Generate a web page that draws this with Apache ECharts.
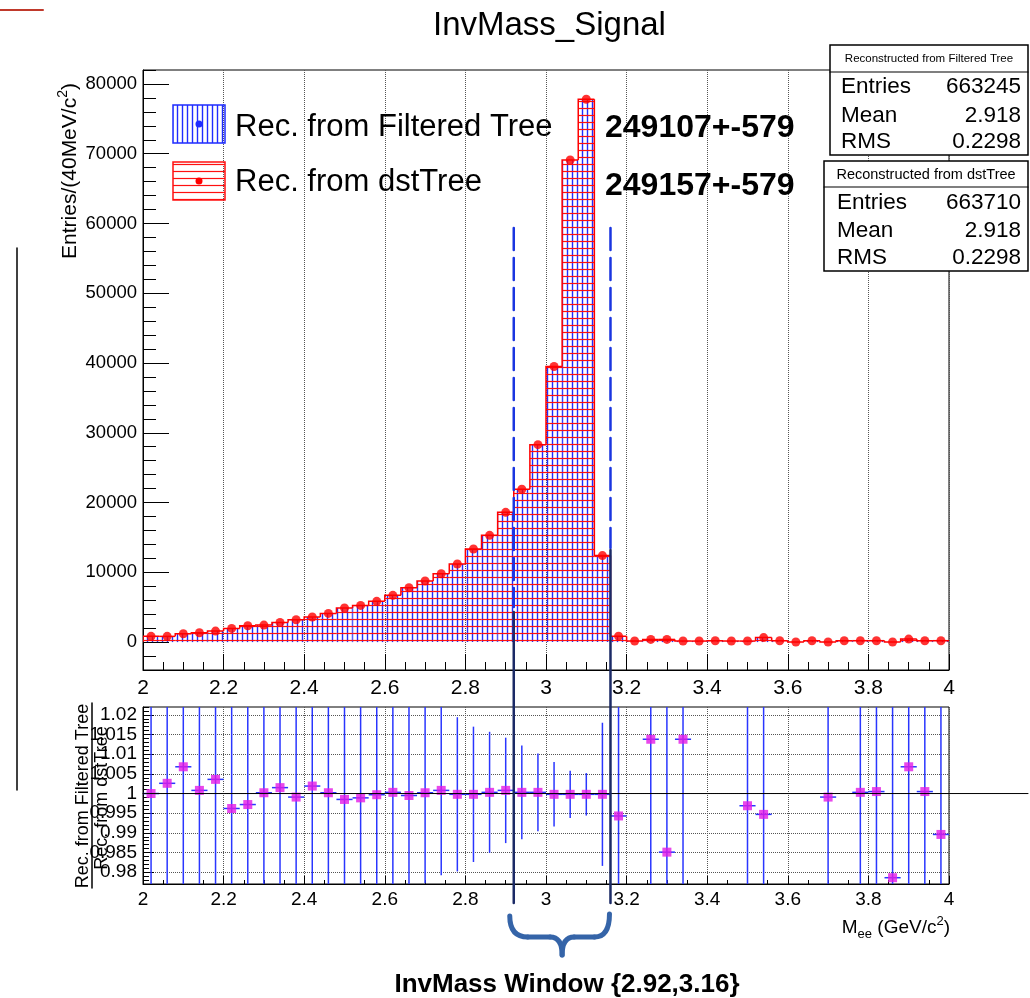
<!DOCTYPE html>
<html>
<head>
<meta charset="utf-8">
<title>InvMass_Signal</title>
<script src="https://cdn.jsdelivr.net/npm/echarts@6.0.0/dist/echarts.min.js"></script>
<style>
html, body { margin: 0; padding: 0; background: #fff; }
#chart { width: 1030px; height: 998px; }
</style>
</head>
<body>
<div id="chart"></div>
<script>
// bins of 40 MeV between 2 and 4 GeV
var binCenters = [2.02, 2.06, 2.10, 2.14, 2.18, 2.22, 2.26, 2.30, 2.34, 2.38,
                  2.42, 2.46, 2.50, 2.54, 2.58, 2.62, 2.66, 2.70, 2.74, 2.78,
                  2.82, 2.86, 2.90, 2.94, 2.98, 3.02, 3.06, 3.10, 3.14, 3.18,
                  3.22, 3.26, 3.30, 3.34, 3.38, 3.42, 3.46, 3.50, 3.54, 3.58,
                  3.62, 3.66, 3.70, 3.74, 3.78, 3.82, 3.86, 3.90, 3.94, 3.98];
var binWidth = 0.04;

// entries per bin (filtered tree and dst tree are on top of each other)
var filteredCounts = [820, 820, 1190, 1340, 1580, 1960, 2340, 2440, 2820, 3200,
                      3590, 4110, 4880, 5260, 5840, 6700, 7790, 8750, 9800, 11190,
                      13340, 15300, 18600, 21900, 28300, 39500, 69100, 77800, 12400, 850,
                      150, 380, 380, 150, 150, 200, 150, 150, 650, 200,
                      20, 200, 20, 200, 200, 200, 20, 430, 200, 200];
var dstCounts = [820, 820, 1190, 1340, 1580, 1960, 2340, 2440, 2820, 3200,
                 3590, 4110, 4880, 5260, 5840, 6700, 7790, 8750, 9800, 11190,
                 13340, 15300, 18600, 21900, 28300, 39500, 69100, 77800, 12400, 850,
                 150, 380, 380, 150, 150, 200, 150, 150, 650, 200,
                 20, 200, 20, 200, 200, 200, 20, 430, 200, 200];

// ratio filtered / dst and its error
var ratio = [1.0000, 1.0026, 1.0068, 1.0008, 1.0036, 0.9962, 0.9972, 1.0002, 1.0015, 0.9991,
             1.0019, 1.0002, 0.9985, 0.9989, 0.9997, 1.0003, 0.9995, 1.0002, 1.0008, 0.9998,
             0.9998, 1.0003, 1.0008, 1.0003, 1.0003, 0.9998, 0.9998, 0.9998, 0.9998, 0.9943,
             null, 1.0138, 0.9851, 1.0138, null, null, null, 0.9969, 0.9947, null,
             null, null, 0.9991, null, 1.0003, 1.0005, 0.9786, 1.0068, 1.0005, 0.9896];
var ratioErr = [0.06, 0.06, 0.05, 0.05, 0.045, 0.04, 0.035, 0.035, 0.033, 0.031,
                0.03, 0.029, 0.028, 0.027, 0.026, 0.025, 0.024, 0.023, 0.0216, 0.0196,
                0.0172, 0.0154, 0.0134, 0.0119, 0.0099, 0.0082, 0.006, 0.0054, 0.0182, 0.05,
                null, 0.1, 0.1, 0.1, null, null, null, 0.1, 0.1, null,
                null, null, 0.1, null, 0.1, 0.1, 0.1, 0.1, 0.1, 0.1];

var entriesTicks = [0, 10000, 20000, 30000, 40000, 50000, 60000, 70000, 80000];
var ratioTicks = [0.98, 0.985, 0.99, 0.995, 1, 1.005, 1.01, 1.015, 1.02];
var windowEdges = [2.92, 3.16];

var stats = [
    {title: "Reconstructed from Filtered Tree", entries: "663245", mean: "2.918", rms: "0.2298"},
    {title: "Reconstructed from dstTree", entries: "663710", mean: "2.918", rms: "0.2298"}
];
var yields = ["249107+-579", "249157+-579"];

var font = "Liberation Sans, Arial, Helvetica, sans-serif";

function hatch(color, w, h, vertical, lw) {
    var c = document.createElement("canvas");
    c.width = w;
    c.height = h;
    var ctx = c.getContext("2d");
    ctx.strokeStyle = color;
    ctx.lineWidth = lw;
    ctx.beginPath();
    if (vertical) {
        ctx.moveTo(w / 2, 0);
        ctx.lineTo(w / 2, h);
    } else {
        ctx.moveTo(0, h / 2);
        ctx.lineTo(w, h / 2);
    }
    ctx.stroke();
    return c;
}
var blueHatch = {image: hatch("#1f2cff", 5, 5, true, 1.4), repeat: "repeat"};
var redHatch = {image: hatch("#ff1010", 7, 7, false, 1.2), repeat: "repeat"};

function fmt(v) {
    return String(+v.toFixed(4));
}

function histSeries(name, counts, fill, stroke, z) {
    return {
        type: "custom",
        name: name,
        xAxisIndex: 0,
        yAxisIndex: 0,
        z: z,
        silent: true,
        clip: true,
        encode: {x: 0, y: 1},
        data: counts.map(function (v, i) {
            return [binCenters[i], v, i > 0 ? counts[i - 1] : 0];
        }),
        renderItem: function (params, api) {
            var x = api.value(0), v = api.value(1), prev = api.value(2);
            var p0 = api.coord([x - binWidth / 2, 0]);
            var p1 = api.coord([x + binWidth / 2, v]);
            var pp = api.coord([x - binWidth / 2, prev]);
            var kids = [{
                type: "rect",
                shape: {x: p0[0], y: Math.min(p0[1], p1[1]), width: p1[0] - p0[0], height: Math.abs(p1[1] - p0[1])},
                style: {fill: fill}
            }];
            if (stroke) {
                kids.push({
                    type: "polyline",
                    shape: {points: [pp, [p0[0], p1[1]], p1]},
                    style: {stroke: stroke, lineWidth: 1.5, fill: null}
                });
            }
            return {type: "group", children: kids};
        }
    };
}

var ratioData = [];
ratio.forEach(function (r, i) {
    if (r !== null) ratioData.push([binCenters[i], r, ratioErr[i]]);
});

function xAxisDef(grid, labelSize, margin, tickLen, minorLen) {
    return {
        type: "value", gridIndex: grid, min: 2, max: 4, interval: 0.2,
        axisLine: {show: true, onZero: false, lineStyle: {color: "#000", width: 1}},
        axisTick: {show: true, inside: true, length: tickLen, lineStyle: {color: "#000"}},
        minorTick: {show: true, splitNumber: 4, length: minorLen, lineStyle: {color: "#000"}},
        splitLine: {show: true, lineStyle: {type: "dotted", color: "#555", width: 1}},
        axisLabel: {fontFamily: font, fontSize: labelSize, color: "#000", margin: margin, formatter: fmt}
    };
}

var option = {
    animation: false,
    backgroundColor: "#fff",
    title: {
        text: "InvMass_Signal", left: 428, top: 4,
        textStyle: {fontFamily: font, fontSize: 33, fontWeight: "normal", color: "#000"}
    },
    grid: [
        {left: 143, top: 70, width: 806, height: 600, show: true, borderColor: "#000", borderWidth: 1},
        {left: 143, top: 707, width: 806, height: 177, show: true, borderColor: "#000", borderWidth: 1}
    ],
    xAxis: [
        xAxisDef(0, 21, 8, 16, 8),
        xAxisDef(1, 19, 6, 8, 4)
    ],
    yAxis: [
        {   // minor ticks of the entries axis
            type: "value", gridIndex: 0, position: "left", min: -4000, max: 82000, interval: 2000,
            axisLine: {show: true, onZero: false, lineStyle: {color: "#000"}},
            axisTick: {show: true, inside: true, length: 13, lineStyle: {color: "#000"}},
            axisLabel: {show: false}, splitLine: {show: false}
        },
        {
            type: "value", gridIndex: 0, position: "left", min: -4000, max: 82000,
            axisLine: {show: false, onZero: false},
            axisTick: {show: true, inside: true, length: 26, customValues: entriesTicks, lineStyle: {color: "#000"}},
            axisLabel: {customValues: entriesTicks, fontFamily: font, fontSize: 18.5, color: "#000", margin: 6,
                        formatter: function (v) { return String(v); }},
            splitLine: {show: false}
        },
        {   // minor ticks of the ratio axis
            type: "value", gridIndex: 1, position: "left", min: 0.977, max: 1.022, interval: 0.001,
            axisLine: {show: true, onZero: false, lineStyle: {color: "#000"}},
            axisTick: {show: true, inside: true, length: 6, lineStyle: {color: "#000"}},
            axisLabel: {show: false}, splitLine: {show: false}
        },
        {
            type: "value", gridIndex: 1, position: "left", min: 0.977, max: 1.022,
            axisLine: {show: false, onZero: false},
            axisTick: {show: true, inside: true, length: 11, customValues: ratioTicks, lineStyle: {color: "#000"}},
            axisLabel: {customValues: ratioTicks, fontFamily: font, fontSize: 19, color: "#000", margin: 6, formatter: fmt},
            splitLine: {show: true, lineStyle: {type: "dotted", color: "#555", width: 1}}
        }
    ],
    series: [
        histSeries("Rec. from Filtered Tree", filteredCounts, blueHatch, null, 2),
        histSeries("Rec. from dstTree", dstCounts, redHatch, "#ff0000", 3),
        {
            type: "scatter", xAxisIndex: 0, yAxisIndex: 0, z: 4, silent: true,
            symbol: "circle", symbolSize: 9,
            itemStyle: {color: "#ff0000"},
            data: dstCounts.map(function (v, i) { return [binCenters[i], v]; })
        },
        {
            type: "custom", xAxisIndex: 1, yAxisIndex: 3, z: 3, silent: true, clip: true,
            encode: {x: 0, y: 1},
            data: ratioData,
            renderItem: function (params, api) {
                var x = api.value(0), r = api.value(1), e = api.value(2);
                var top = api.coord([x, r + e]), bot = api.coord([x, r - e]);
                var l = api.coord([x - binWidth / 2, r]), rr = api.coord([x + binWidth / 2, r]);
                var st = {stroke: "#2a36ff", lineWidth: 1.5};
                return {type: "group", children: [
                    {type: "line", shape: {x1: top[0], y1: top[1], x2: bot[0], y2: bot[1]}, style: st},
                    {type: "line", shape: {x1: l[0], y1: l[1], x2: rr[0], y2: rr[1]}, style: st}
                ]};
            }
        },
        {
            type: "scatter", xAxisIndex: 1, yAxisIndex: 3, z: 5, silent: true,
            symbol: "rect", symbolSize: 9,
            itemStyle: {color: "#e31ae6"},
            data: ratioData.map(function (d) { return [d[0], d[1]]; })
        }
    ]
};

var chart = echarts.init(document.getElementById("chart"), null, {renderer: "canvas"});
chart.setOption(option);

var xl = chart.convertToPixel({xAxisIndex: 0}, windowEdges[0]);
var xr = chart.convertToPixel({xAxisIndex: 0}, windowEdges[1]);
var yOne = chart.convertToPixel({yAxisIndex: 3}, 1);
var xMid = (xl + xr) / 2;

function txt(x, y, s, size, align, weight) {
    return {
        type: "text", z: 100, silent: true,
        style: {x: x, y: y, text: s, fontFamily: font, fontSize: size, fontWeight: weight || "normal",
                fill: "#000", align: align || "left", verticalAlign: "middle"}
    };
}
function seg(x1, y1, x2, y2, color, w, dash) {
    return {
        type: "line", z: 90, silent: true,
        shape: {x1: x1, y1: y1, x2: x2, y2: y2},
        style: {stroke: color, lineWidth: w, lineDash: dash || null, lineCap: "round"}
    };
}
function curve(x1, y1, cx, cy, x2, y2, color, w) {
    return {
        type: "bezierCurve", z: 90, silent: true,
        shape: {x1: x1, y1: y1, cpx1: cx, cpy1: cy, x2: x2, y2: y2},
        style: {stroke: color, lineWidth: w, fill: null, lineCap: "round"}
    };
}

var g = [];
// slide decorations
g.push(seg(0, 10, 43, 10, "#c0392b", 2));
g.push(seg(17, 248, 17, 790, "#000", 1.5));

// reference line at ratio = 1
g.push(seg(143, yOne, 1028, yOne, "#000", 1));

// axis titles
g.push({
    type: "text", z: 100, silent: true, x: 70, y: 171, rotation: Math.PI / 2,
    style: {x: 0, y: 0, text: "{m|Entries/(40MeV/c}{sup|2}{m|)}", align: "center", verticalAlign: "middle",
            rich: {m: {fontFamily: font, fontSize: 21, lineHeight: 28, verticalAlign: "middle", fill: "#000"},
                   sup: {fontFamily: font, fontSize: 14, lineHeight: 16, verticalAlign: "top", fill: "#000"}}}
});
g.push({
    type: "text", z: 100, silent: true, x: 950, y: 928,
    style: {x: 0, y: 0, text: "{m|M}{sub|ee}{m| (GeV/c}{sup|2}{m|)}", align: "right", verticalAlign: "middle",
            rich: {m: {fontFamily: font, fontSize: 19, lineHeight: 26, verticalAlign: "middle", fill: "#000"},
                   sub: {fontFamily: font, fontSize: 13, lineHeight: 14, verticalAlign: "bottom", fill: "#000"},
                   sup: {fontFamily: font, fontSize: 13, lineHeight: 14, verticalAlign: "top", fill: "#000"}}}
});
g.push({
    type: "text", z: 100, silent: true, x: 83, y: 796, rotation: Math.PI / 2,
    style: {x: 0, y: 0, text: "Rec. from Filtered Tree", fontFamily: font, fontSize: 18, fill: "#000",
            align: "center", verticalAlign: "middle"}
});
g.push({
    type: "text", z: 100, silent: true, x: 102, y: 798, rotation: Math.PI / 2,
    style: {x: 0, y: 0, text: "Rec. from dstTree", fontFamily: font, fontSize: 18, fill: "#000",
            align: "center", verticalAlign: "middle"}
});
g.push(seg(92, 703, 92, 888, "#000", 1.5));

// legend
g.push({type: "rect", z: 100, silent: true, shape: {x: 173, y: 105, width: 52, height: 38},
        style: {fill: blueHatch, stroke: "#1f2cff", lineWidth: 1.5}});
g.push({type: "circle", z: 101, silent: true, shape: {cx: 199, cy: 124, r: 3.5}, style: {fill: "#1f2cff"}});
g.push({type: "rect", z: 100, silent: true, shape: {x: 173, y: 162, width: 52, height: 38},
        style: {fill: redHatch, stroke: "#ff1010", lineWidth: 1.5}});
g.push({type: "circle", z: 101, silent: true, shape: {cx: 199, cy: 181, r: 3.5}, style: {fill: "#ff0000"}});
g.push(txt(235, 127, "Rec. from Filtered Tree", 31));
g.push(txt(235, 182, "Rec. from dstTree", 31));

// yields
g.push(txt(605, 128, yields[0], 32, "left", "bold"));
g.push(txt(605, 186, yields[1], 32, "left", "bold"));

// stats boxes
var boxes = [
    {x: 830, y: 45, w: 198, h: 110, sep: 72, titleY: 59, titleSize: 11.5, labelX: 841, rows: [87, 116, 142]},
    {x: 824, y: 161, w: 204, h: 110, sep: 187, titleY: 175, titleSize: 14.5, labelX: 837, rows: [203, 231, 258]}
];
boxes.forEach(function (b, i) {
    var s = stats[i];
    g.push({type: "rect", z: 110, silent: true, shape: {x: b.x, y: b.y, width: b.w, height: b.h},
            style: {fill: "#fff", stroke: "#000", lineWidth: 1.5}});
    var sep = seg(b.x, b.sep, b.x + b.w, b.sep, "#000", 1.2);
    sep.z = 111;
    g.push(sep);
    var items = [txt(b.x + b.w / 2, b.titleY, s.title, b.titleSize, "center"),
                 txt(b.labelX, b.rows[0], "Entries", 22.5), txt(1021, b.rows[0], s.entries, 22.5, "right"),
                 txt(b.labelX, b.rows[1], "Mean", 22.5), txt(1021, b.rows[1], s.mean, 22.5, "right"),
                 txt(b.labelX, b.rows[2], "RMS", 22.5), txt(1021, b.rows[2], s.rms, 22.5, "right")];
    items.forEach(function (t) { t.z = 112; g.push(t); });
});

// invariant mass window
g.push(seg(xl, 228, xl, 607, "#1a35e0", 2.5, [22, 8]));
g.push(seg(xr, 228, xr, 548, "#1a35e0", 2.5, [22, 8]));
g.push(seg(xl, 612, xl, 903, "#1b2a66", 2.5));
g.push(seg(xr, 550, xr, 903, "#1b2a66", 2.5));

// curly brace under the window
var braceColor = "#3564a8";
g.push(curve(xl - 4, 916, xl - 4, 937, xl + 14, 937, braceColor, 5));
g.push(seg(xl + 14, 937, xMid - 12, 937, braceColor, 5));
g.push(curve(xMid - 12, 937, xMid, 937, xMid, 955, braceColor, 5));
g.push(curve(xMid, 955, xMid, 937, xMid + 12, 937, braceColor, 5));
g.push(seg(xMid + 12, 937, xr - 16, 937, braceColor, 5));
g.push(curve(xr - 16, 937, xr - 1, 937, xr - 1, 914, braceColor, 5));

g.push(txt(567, 985, "InvMass Window {2.92,3.16}", 26, "center", "bold"));

chart.setOption({graphic: g});
</script>
</body>
</html>
